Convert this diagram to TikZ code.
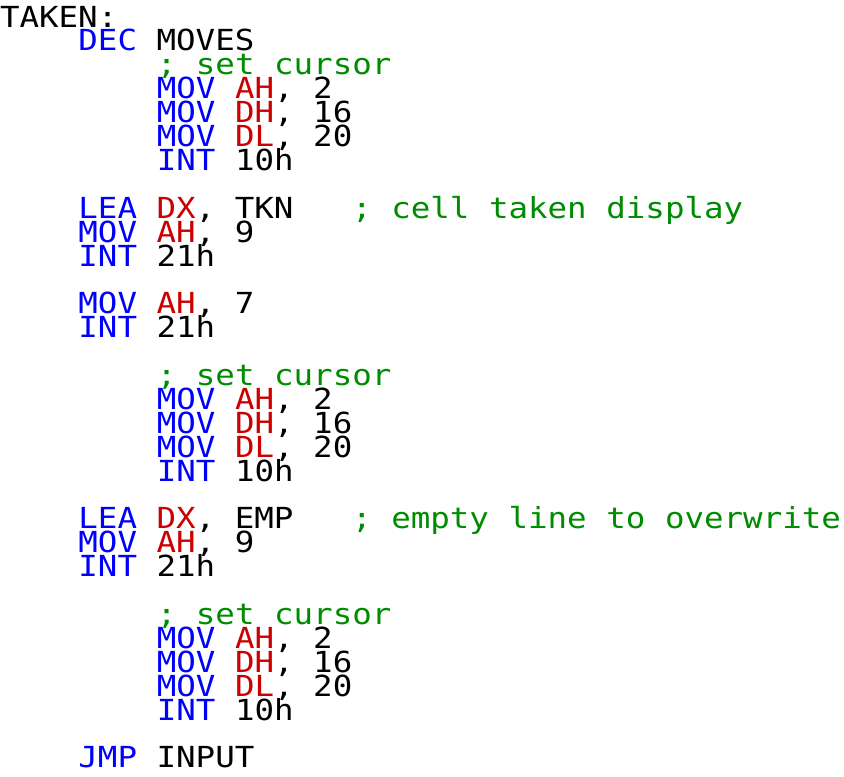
\documentclass[tikz,border=0pt]{standalone}
\usepackage{fontspec}
\newfontfamily\codefont[FakeStretch=1.12]{DejaVu Sans Mono}
\definecolor{kw}{RGB}{0,0,255}
\definecolor{reg}{RGB}{204,0,0}
\definecolor{cmt}{RGB}{0,140,0}
\newcommand\K[1]{\textcolor{kw}{#1}}
\newcommand\R[1]{\textcolor{reg}{#1}}
\newcommand\C[1]{\textcolor{cmt}{#1}}
\tikzset{ln/.style={anchor=base west,inner sep=0pt,outer sep=0pt,text height=19pt,text depth=4pt,font=\codefont\fontsize{29}{29}\selectfont,text=black}}
\begin{document}
\begin{tikzpicture}[x=1pt,y=-1pt]
\useasboundingbox[fill=white] (0,0) rectangle (844,777);
\def\cw{19.6}
\def\lh{23.9}
\def\yo{27}
\node[ln] (l0)  at (0*\cw, \yo+0*\lh)  {TAKEN:};
\node[ln] (l1)  at (4*\cw, \yo+1*\lh)  {\K{DEC} MOVES};
\node[ln] (l2)  at (8*\cw, \yo+2*\lh)  {\C{; set cursor}};
\node[ln] (l3)  at (8*\cw, \yo+3*\lh)  {\K{MOV} \R{AH}, 2};
\node[ln] (l4)  at (8*\cw, \yo+4*\lh)  {\K{MOV} \R{DH}, 16};
\node[ln] (l5)  at (8*\cw, \yo+5*\lh)  {\K{MOV} \R{DL}, 20};
\node[ln] (l6)  at (8*\cw, \yo+6*\lh)  {\K{INT} 10h};
\node[ln] (l8)  at (4*\cw, \yo+8*\lh)  {\K{LEA} \R{DX}, TKN~~~\C{; cell taken display}};
\node[ln] (l9)  at (4*\cw, \yo+9*\lh)  {\K{MOV} \R{AH}, 9};
\node[ln] (l10) at (4*\cw, \yo+10*\lh) {\K{INT} 21h};
\node[ln] (l12) at (4*\cw, \yo+12*\lh) {\K{MOV} \R{AH}, 7};
\node[ln] (l13) at (4*\cw, \yo+13*\lh) {\K{INT} 21h};
\node[ln] (l15) at (8*\cw, \yo+15*\lh) {\C{; set cursor}};
\node[ln] (l16) at (8*\cw, \yo+16*\lh) {\K{MOV} \R{AH}, 2};
\node[ln] (l17) at (8*\cw, \yo+17*\lh) {\K{MOV} \R{DH}, 16};
\node[ln] (l18) at (8*\cw, \yo+18*\lh) {\K{MOV} \R{DL}, 20};
\node[ln] (l19) at (8*\cw, \yo+19*\lh) {\K{INT} 10h};
\node[ln] (l21) at (4*\cw, \yo+21*\lh) {\K{LEA} \R{DX}, EMP~~~\C{; empty line to overwrite}};
\node[ln] (l22) at (4*\cw, \yo+22*\lh) {\K{MOV} \R{AH}, 9};
\node[ln] (l23) at (4*\cw, \yo+23*\lh) {\K{INT} 21h};
\node[ln] (l25) at (8*\cw, \yo+25*\lh) {\C{; set cursor}};
\node[ln] (l26) at (8*\cw, \yo+26*\lh) {\K{MOV} \R{AH}, 2};
\node[ln] (l27) at (8*\cw, \yo+27*\lh) {\K{MOV} \R{DH}, 16};
\node[ln] (l28) at (8*\cw, \yo+28*\lh) {\K{MOV} \R{DL}, 20};
\node[ln] (l29) at (8*\cw, \yo+29*\lh) {\K{INT} 10h};
\node[ln] (l31) at (4*\cw, \yo+31*\lh) {\K{JMP} INPUT};
\end{tikzpicture}
\end{document}
